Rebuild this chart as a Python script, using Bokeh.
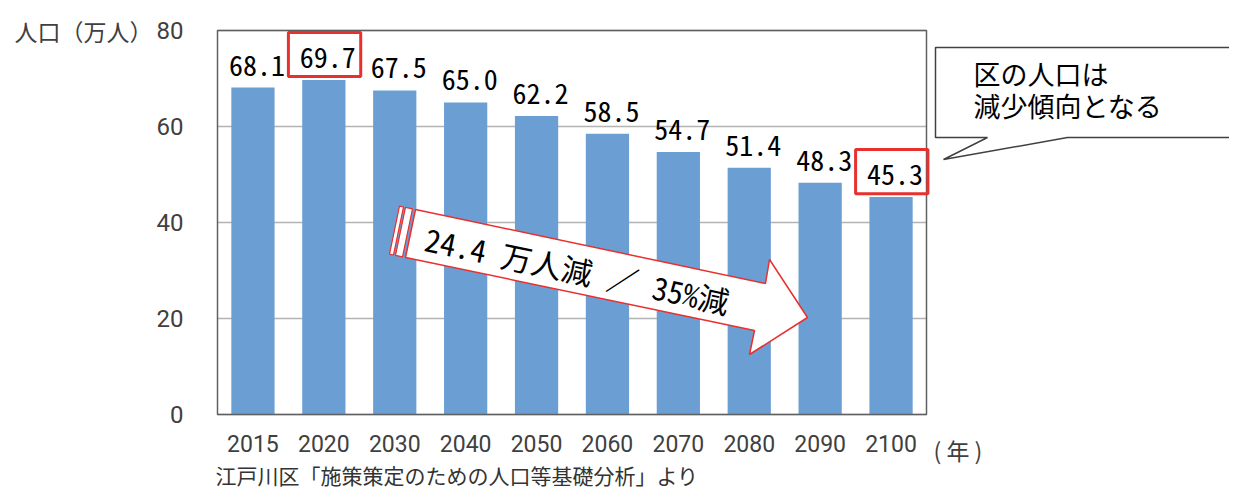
import math
from bokeh.plotting import figure
from bokeh.models import Range1d, FixedTicker, Label, BoxAnnotation, PolyAnnotation
from bokeh.core.properties import value
from bokeh.embed import file_html
from bokeh.resources import INLINE

# ---- data ----
years = ["2015", "2020", "2030", "2040", "2050", "2060", "2070", "2080", "2090", "2100"]
population = [68.1, 69.7, 67.5, 65.0, 62.2, 58.5, 54.7, 51.4, 48.3, 45.3]
y_ticks = [0, 20, 40, 60, 80]
highlight = ["2020", "2100"]
y_title = "人口（万人）"
x_unit = "( 年 )"
source_note = "江戸川区「施策策定のための人口等基礎分析」より"
callout_lines = ["区の人口は", "減少傾向となる"]
arrow_text = "24.4 万人減 ／ 35%減"

# ---- layout constants (pixels of the chart area inside the canvas) ----
W, H = 1229, 492
F_L, F_R, F_T, F_B = 217, 926, 30, 414
N = len(years)
CAT_W = (F_R - F_L) / N
Y_PX = (F_B - F_T) / 80.0


def px2x(px):
    return (px - F_L) / CAT_W


def px2y(py):
    return (F_B - py) / Y_PX


BAR_COLOR = "#6b9fd4"
TXT = "#404040"
RED = "#e8302e"
NUM_FONT = "Noto Sans Mono CJK JP, DejaVu Sans Mono, monospace"
CJK_FONT = "Noto Sans CJK JP"

xpos = [i + 0.5 for i in range(N)]

p = figure(
    width=W, height=H,
    x_range=Range1d(px2x(0), px2x(W)),
    y_range=Range1d(px2y(H), px2y(0)),
    output_backend="svg", toolbar_location=None,
    min_border_left=0, min_border_right=0, min_border_top=0, min_border_bottom=0,
)
p.background_fill_color = "white"
p.border_fill_color = "white"
p.outline_line_color = None
p.xgrid.visible = False
p.ygrid.visible = False

# gridlines (at the y ticks, across the chart area)
p.segment(x0=[0] * len(y_ticks), x1=[N] * len(y_ticks), y0=y_ticks, y1=y_ticks,
          line_color="#b3b3b3", line_width=1.5)

p.vbar(x=xpos, top=population, width=0.61, fill_color=BAR_COLOR, line_color=None)

# chart-area frame
p.add_layout(BoxAnnotation(left=0, right=N, bottom=0, top=80, fill_alpha=0,
                           line_color="#606060", line_alpha=1, line_width=1.5))

# axes, fixed on the chart-area edges
p.xaxis.fixed_location = 0
p.xaxis.ticker = FixedTicker(ticks=xpos)
p.xaxis.major_label_overrides = {x: y for x, y in zip(xpos, years)}
p.xaxis.axis_line_color = None
p.xaxis.major_tick_line_color = None
p.xaxis.minor_tick_line_color = None
p.xaxis.major_label_standoff = 14
p.xaxis.major_label_text_font = "Roboto"
p.xaxis.major_label_text_font_size = "23px"
p.xaxis.major_label_text_color = TXT

p.yaxis.fixed_location = 0
p.yaxis.ticker = FixedTicker(ticks=y_ticks)
p.yaxis.axis_line_color = None
p.yaxis.major_tick_line_color = None
p.yaxis.minor_tick_line_color = None
p.yaxis.major_label_standoff = 28
p.yaxis.major_label_text_font = "Roboto"
p.yaxis.major_label_text_font_size = "24px"
p.yaxis.major_label_text_color = TXT

# value labels
p.text(x=xpos, y=[v + 4.7 for v in population], text=[f"{v:.1f}" for v in population],
       text_align="center", text_baseline="middle", x_offset=4,
       text_font=value(NUM_FONT), text_font_size="28px", text_color="black")

# highlight boxes
for yr in highlight:
    i = years.index(yr)
    v = population[i]
    p.add_layout(BoxAnnotation(left=i + 0.5 - 0.5, right=i + 0.5 + 0.52,
                               bottom=v + 0.7, top=v + 9.9,
                               fill_alpha=0, line_alpha=1, line_color=RED, line_width=3))

# axis title & notes
p.add_layout(Label(x=px2x(14), y=80, text=y_title, text_align="left", text_baseline="middle",
                   text_font=CJK_FONT, text_font_size="23px", text_color=TXT))
p.add_layout(Label(x=px2x(933), y=px2y(449), text=x_unit, text_align="left", text_baseline="middle",
                   text_font=CJK_FONT, text_font_size="23px", text_color=TXT))
p.add_layout(Label(x=px2x(215), y=px2y(474), text=source_note, text_align="left", text_baseline="middle",
                   text_font=CJK_FONT, text_font_size="21px", text_color="#333333"))

# callout
cx = [935, 1245, 1245, 1067, 943, 987, 935]
cy = [47, 47, 137, 137, 159, 137, 137]
p.add_layout(PolyAnnotation(xs=[px2x(v) for v in cx], ys=[px2y(v) for v in cy],
                            fill_color="white", fill_alpha=1, line_color="#404040", line_alpha=1,
                            line_width=1.5))
for line, ly in zip(callout_lines, [73, 105]):
    p.add_layout(Label(x=px2x(973), y=px2y(ly), text=line, text_align="left", text_baseline="middle",
                       text_font=CJK_FONT, text_font_size="27px", text_color="black"))

# big arrow
ax = [415, 765, 769, 807, 749, 754, 405]
ay = [209, 283, 259, 317, 354, 330, 257]
p.add_layout(PolyAnnotation(xs=[px2x(v) for v in ax], ys=[px2y(v) for v in ay],
                            fill_color="white", fill_alpha=1, line_color=RED, line_alpha=1,
                            line_width=1.5))
for d0, d1 in [(-10, -3), (-16, -12)]:
    sx = [415 + d0, 415 + d1, 405 + d1, 405 + d0]
    sy = [209 + 0.211 * d0, 209 + 0.211 * d1, 257 + 0.209 * d1, 257 + 0.209 * d0]
    p.add_layout(PolyAnnotation(xs=[px2x(v) for v in sx], ys=[px2y(v) for v in sy],
                                fill_color="white", fill_alpha=1, line_color=RED, line_alpha=1,
                                line_width=1.2))
p.add_layout(Label(x=px2x(577), y=px2y(269), text=arrow_text, angle=-math.atan(0.211),
                   text_align="center", text_baseline="middle",
                   text_font=NUM_FONT, text_font_size="31px", text_color="black"))

open("out.html", "w").write(file_html(p, INLINE))
